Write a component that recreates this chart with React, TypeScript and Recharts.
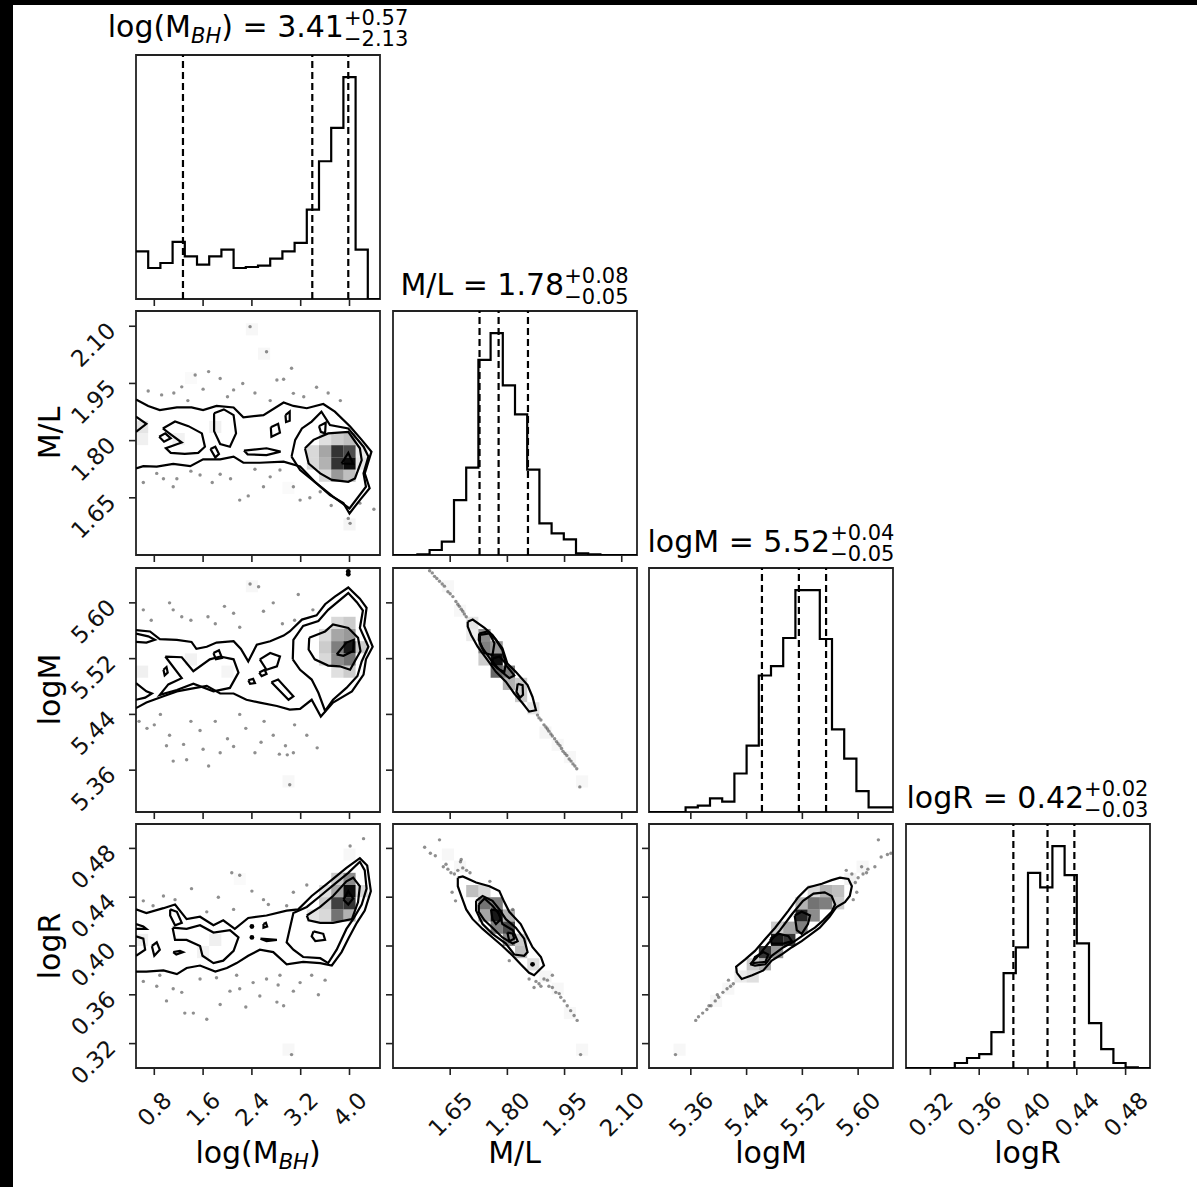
import React from "react";
import { ComposedChart, XAxis, YAxis, Scatter, ReferenceArea, ReferenceLine } from "recharts";

// axis ranges and ticks of the four parameters
const RANGE_MBH: [number, number] = [0.5, 4.5];
const RANGE_ML: [number, number] = [1.5, 2.14];
const RANGE_LOGM: [number, number] = [5.3, 5.65];
const RANGE_LOGR: [number, number] = [0.3, 0.5];

const TICKS_MBH = [0.8, 1.6, 2.4, 3.2, 4.0];
const TICKS_ML = [1.65, 1.8, 1.95, 2.1];
const TICKS_LOGM = [5.36, 5.44, 5.52, 5.6];
const TICKS_LOGR = [0.32, 0.36, 0.4, 0.44, 0.48];

// 1D histograms (20 bins each) and 16/50/84 % quantiles
const HIST_MBH = [143, 93, 108, 171, 128, 103, 128, 148, 93, 96, 100, 121, 143, 168, 268, 413, 513, 665, 148, 0];
const HIST_ML = [0, 0, 2, 15, 40, 165, 263, 587, 667, 510, 423, 257, 95, 65, 47, 5, 2, 0, 0, 0];
const HIST_LOGM = [0, 0, 0, 14, 19, 41, 31, 116, 200, 411, 439, 524, 668, 668, 521, 249, 161, 63, 14, 14];
const HIST_LOGR = [0, 0, 0, 0, 15, 30, 42, 108, 285, 363, 587, 543, 667, 580, 375, 135, 57, 15, 2, 0];

const QUANT_MBH = [1.27, 3.39, 3.98];
const QUANT_ML = [1.727, 1.777, 1.854];
const QUANT_LOGM = [5.462, 5.515, 5.554];
const QUANT_LOGR = [0.388, 0.416, 0.438];

type P = [number, number];
type C = [number, number, number];

// ---- M/L vs log(M_BH)
const CONT_ML_MBH: P[][] = [
  [[0.5,1.908],[0.7,1.891],[0.89,1.88],[1.17,1.887],[1.41,1.887],[1.6,1.88],[1.82,1.891],[2.1,1.887],[2.26,1.861],[2.59,1.867],[2.92,1.9],[3.08,1.891],[3.3,1.885],[3.57,1.896],[3.76,1.876],[4.01,1.837],[4.2,1.802],[4.36,1.771],[4.25,1.714],[4.33,1.675],[4.17,1.644],[4.0,1.609],[3.9,1.636],[3.68,1.657],[3.43,1.692],[3.19,1.732],[2.92,1.745],[2.53,1.742],[2.26,1.742],[2.1,1.758],[1.88,1.751],[1.6,1.751],[1.39,1.733],[1.11,1.739],[0.84,1.732],[0.62,1.733],[0.5,1.727]],
  [[3.05,1.758],[3.11,1.802],[3.22,1.832],[3.38,1.85],[3.54,1.876],[3.68,1.841],[3.98,1.832],[4.23,1.784],[4.31,1.758],[4.23,1.714],[4.27,1.679],[4.0,1.622],[3.73,1.653],[3.46,1.688],[3.19,1.723],[3.05,1.758]],
  [[3.27,1.78],[3.41,1.802],[3.65,1.819],[3.98,1.823],[4.17,1.78],[4.2,1.749],[4.09,1.701],[3.98,1.692],[3.71,1.697],[3.52,1.714],[3.33,1.74],[3.27,1.78]],
  [[3.87,1.74],[3.98,1.768],[4.06,1.739],[3.87,1.74]],
  [[0.5,1.863],[0.67,1.844],[0.5,1.823]],
  [[0.88,1.81],[0.98,1.819],[1.07,1.806],[0.96,1.797],[0.88,1.81]],
  [[0.94,1.832],[1.14,1.85],[1.36,1.838],[1.58,1.819],[1.63,1.784],[1.52,1.768],[1.3,1.765],[1.07,1.768],[0.99,1.78],[1.25,1.795],[1.03,1.821],[0.94,1.832]],
  [[1.78,1.872],[1.94,1.882],[2.1,1.867],[2.14,1.819],[2.04,1.784],[1.88,1.791],[1.78,1.825],[1.78,1.872]],
  [[1.72,1.778],[1.8,1.784],[1.86,1.765],[1.8,1.756],[1.72,1.778]],
  [[2.27,1.774],[2.64,1.78],[2.87,1.771],[2.64,1.762],[2.33,1.764],[2.27,1.774]],
  [[2.71,1.835],[2.83,1.844],[2.86,1.821],[2.72,1.81],[2.71,1.835]],
  [[2.95,1.867],[3.02,1.876],[3.02,1.852],[2.96,1.849],[2.95,1.867]],
  [[3.5,1.838],[3.61,1.847],[3.6,1.819],[3.53,1.823],[3.5,1.838]],
];
const CELLS_ML_MBH: C[] = [
  [4.0,1.74,0.95],[3.8,1.772,0.8],[3.8,1.74,0.8],[4.0,1.772,0.7],[3.6,1.772,0.35],[3.6,1.74,0.3],[3.8,1.708,0.4],[4.0,1.708,0.25],
  [3.4,1.772,0.15],[3.4,1.74,0.15],[3.8,1.804,0.2],[4.0,1.804,0.25],[3.6,1.804,0.12],[3.6,1.708,0.15],[4.2,1.74,0.1],[4.2,1.772,0.08],
  [0.6,1.836,0.1],[0.6,1.804,0.06],[1.2,1.804,0.05],[1.8,1.836,0.06],[2.4,2.092,0.03],[2.6,2.028,0.03],[4.0,1.58,0.04],[1.4,1.964,0.02],[3.0,1.676,0.02],
];
const PTS_ML_MBH: P[] = [
  [2.37,2.099],[2.64,2.033],[1.47,1.972],[1.69,1.981],[1.88,1.963],[1.25,1.941],[2.1,1.933],[2.81,1.959],[2.92,1.961],[3.05,1.99],[3.08,1.924],[3.46,1.94],
  [0.92,1.92],[1.12,1.925],[1.6,1.935],[2.0,1.915],[2.45,1.925],[2.7,1.905],[3.25,1.915],[3.85,1.905],[0.7,1.93],[1.35,1.905],[2.25,1.95],[3.65,1.925],
  [0.62,1.69],[0.84,1.714],[1.11,1.679],[1.17,1.7],[1.55,1.71],[1.88,1.712],[2.2,1.644],[2.34,1.655],[2.59,1.679],[2.86,1.723],[3.08,1.679],[3.19,1.644],
  [3.52,1.666],[3.98,1.596],[4.01,1.583],[4.17,1.636],[1.4,1.72],[2.05,1.7],[2.7,1.705],[0.95,1.7],[1.75,1.69],[3.35,1.65],[2.45,1.725],[3.7,1.63],[4.4,1.62],
];

// ---- logM vs log(M_BH)
const CONT_LOGM_MBH: P[][] = [
  [[0.5,5.561],[0.73,5.559],[0.89,5.548],[1.17,5.547],[1.41,5.544],[1.49,5.534],[1.66,5.537],[1.82,5.543],[2.1,5.545],[2.22,5.534],[2.34,5.516],[2.48,5.54],[2.7,5.545],[2.92,5.553],[3.02,5.559],[3.22,5.576],[3.46,5.582],[3.6,5.598],[3.76,5.609],[3.98,5.622],[4.17,5.606],[4.28,5.593],[4.24,5.567],[4.38,5.537],[4.27,5.519],[4.23,5.497],[4.04,5.473],[3.73,5.457],[3.53,5.437],[3.38,5.461],[3.19,5.448],[3.02,5.447],[2.81,5.452],[2.53,5.457],[2.31,5.461],[2.1,5.47],[1.88,5.47],[1.66,5.481],[1.41,5.477],[1.17,5.473],[0.95,5.466],[0.67,5.457],[0.5,5.449]],
  [[3.07,5.519],[3.08,5.547],[3.24,5.567],[3.49,5.574],[3.65,5.59],[3.98,5.614],[4.12,5.601],[4.22,5.589],[4.17,5.564],[4.31,5.537],[4.2,5.516],[4.13,5.495],[3.95,5.478],[3.73,5.461],[3.6,5.445],[3.49,5.471],[3.38,5.49],[3.19,5.504],[3.07,5.519]],
  [[3.34,5.55],[3.6,5.559],[3.73,5.569],[3.98,5.564],[4.14,5.55],[4.18,5.531],[4.01,5.504],[3.84,5.509],[3.65,5.51],[3.43,5.519],[3.33,5.533],[3.34,5.55]],
  [[3.79,5.526],[3.95,5.543],[4.07,5.547],[4.06,5.531],[3.9,5.524],[3.79,5.526]],
  [[0.5,5.556],[0.7,5.552],[0.81,5.547],[0.67,5.543],[0.5,5.544]],
  [[0.5,5.485],[0.67,5.473],[0.76,5.47],[0.65,5.464],[0.5,5.461]],
  [[0.98,5.523],[1.25,5.522],[1.44,5.502],[1.71,5.519],[1.88,5.523],[2.1,5.519],[2.18,5.5],[2.04,5.478],[1.77,5.473],[1.44,5.484],[1.17,5.475],[0.89,5.468],[1.03,5.483],[1.25,5.492],[0.98,5.523]],
  [[0.95,5.504],[1.0,5.508],[1.02,5.5],[0.97,5.496],[0.95,5.504]],
  [[1.77,5.528],[1.86,5.532],[1.91,5.521],[1.81,5.519],[1.77,5.528]],
  [[2.53,5.519],[2.7,5.528],[2.86,5.523],[2.81,5.509],[2.64,5.504],[2.53,5.519]],
  [[2.52,5.5],[2.61,5.504],[2.64,5.498],[2.56,5.495],[2.52,5.5]],
  [[2.34,5.489],[2.42,5.491],[2.45,5.485],[2.37,5.484],[2.34,5.489]],
  [[2.72,5.486],[2.83,5.49],[3.08,5.466],[3.0,5.461],[2.72,5.486]],
];
const CELLS_LOGM_MBH: C[] = [
  [4.0,5.5363,0.9],[4.0,5.5188,0.55],[3.8,5.5363,0.5],[3.8,5.5188,0.45],[4.0,5.5538,0.4],[3.8,5.5538,0.35],[3.6,5.5363,0.2],[3.6,5.5188,0.15],
  [4.2,5.5363,0.2],[3.8,5.5713,0.15],[3.6,5.5538,0.15],[3.8,5.5013,0.12],[4.0,5.5013,0.2],[4.0,5.5713,0.2],
  [0.6,5.5013,0.06],[1.4,5.5188,0.05],[2.0,5.5013,0.04],[2.4,5.6238,0.03],[3.0,5.3438,0.03],
];
const PTS_LOGM_MBH: P[] = [
  [2.37,5.627],[2.51,5.623],[1.05,5.6],[1.11,5.59],[0.62,5.59],[1.4,5.575],[1.68,5.58],[1.8,5.57],[2.1,5.585],[2.59,5.588],[3.16,5.612],[3.4,5.59],
  [2.9,5.57],[0.75,5.575],[2.2,5.565],[1.25,5.58],[3.1,5.575],[2.75,5.6],[1.95,5.595],
  [0.55,5.43],[0.68,5.42],[0.9,5.44],[1.05,5.41],[1.28,5.397],[1.55,5.417],[1.8,5.43],[2.0,5.405],[2.1,5.394],[2.3,5.42],[2.55,5.4],[2.75,5.41],
  [2.95,5.395],[3.1,5.425],[3.08,5.385],[2.98,5.382],[2.85,5.383],[3.47,5.392],[1.33,5.375],[1.11,5.373],[1.69,5.366],[3.02,5.339],[1.88,5.385],
  [0.8,5.425],[2.6,5.43],[3.3,5.41],[1.4,5.43],[2.2,5.44],[1.0,5.395],[2.45,5.385],[1.6,5.39],
];
const DARK_LOGM_MBH: P[] = [[3.98,5.645],[3.98,5.641]];

// ---- logR vs log(M_BH)
const CONT_LOGR_MBH: P[][] = [
  [[0.5,0.43],[0.67,0.427],[0.95,0.431],[1.14,0.434],[1.33,0.422],[1.55,0.424],[1.77,0.417],[1.93,0.421],[2.12,0.414],[2.34,0.423],[2.64,0.425],[2.97,0.429],[3.16,0.43],[3.38,0.441],[3.63,0.451],[3.95,0.464],[4.17,0.472],[4.29,0.466],[4.35,0.445],[4.25,0.429],[4.12,0.419],[3.98,0.406],[3.87,0.395],[3.71,0.384],[3.52,0.386],[3.24,0.387],[2.97,0.385],[2.75,0.395],[2.53,0.397],[2.34,0.392],[2.15,0.386],[1.99,0.382],[1.8,0.379],[1.55,0.384],[1.33,0.382],[1.17,0.377],[0.95,0.38],[0.67,0.379],[0.5,0.379]],
  [[3.02,0.414],[3.08,0.427],[3.3,0.432],[3.52,0.441],[3.76,0.451],[3.98,0.46],[4.17,0.469],[4.25,0.462],[4.28,0.447],[4.2,0.434],[4.06,0.422],[3.95,0.414],[3.79,0.397],[3.65,0.386],[3.52,0.39],[3.24,0.391],[3.08,0.397],[2.97,0.403],[3.02,0.414]],
  [[3.3,0.425],[3.52,0.432],[3.73,0.441],[3.95,0.453],[4.06,0.456],[4.17,0.449],[4.14,0.436],[4.04,0.422],[3.73,0.419],[3.52,0.419],[3.33,0.421],[3.3,0.425]],
  [[3.9,0.438],[3.98,0.445],[4.06,0.439],[3.98,0.434],[3.9,0.438]],
  [[3.41,0.412],[3.57,0.41],[3.6,0.405],[3.44,0.404],[3.38,0.408],[3.41,0.412]],
  [[0.5,0.418],[0.62,0.416],[0.67,0.414],[0.5,0.414]],
  [[0.5,0.408],[0.62,0.406],[0.65,0.397],[0.5,0.392]],
  [[0.76,0.4],[0.84,0.403],[0.89,0.397],[0.8,0.392],[0.76,0.4]],
  [[1.11,0.395],[1.22,0.396],[1.27,0.395],[1.16,0.393],[1.11,0.395]],
  [[1.06,0.43],[1.17,0.428],[1.25,0.419],[1.14,0.417],[1.06,0.425],[1.06,0.43]],
  [[1.1,0.415],[1.33,0.414],[1.55,0.417],[1.77,0.411],[2.04,0.413],[2.18,0.407],[2.1,0.396],[1.93,0.388],[1.77,0.386],[1.59,0.392],[1.55,0.4],[1.33,0.405],[1.14,0.405],[1.1,0.415]],
  [[2.59,0.418],[2.63,0.419],[2.65,0.416],[2.59,0.415],[2.59,0.418]],
  [[2.54,0.406],[2.81,0.405],[2.64,0.404],[2.54,0.406]],
];
const CELLS_LOGR_MBH: C[] = [
  [4.0,0.445,0.95],[4.0,0.435,0.8],[3.8,0.435,0.75],[3.8,0.425,0.55],[4.0,0.455,0.45],[3.8,0.445,0.35],[3.6,0.435,0.2],[3.6,0.425,0.15],
  [4.0,0.425,0.3],[3.8,0.455,0.2],[4.2,0.445,0.15],[3.4,0.425,0.1],[3.6,0.445,0.12],
  [0.6,0.405,0.06],[1.8,0.405,0.06],[1.6,0.395,0.05],[4.0,0.475,0.03],[3.0,0.315,0.03],[2.2,0.455,0.02],
];
const PTS_LOGR_MBH: P[] = [
  [2.2,0.458],[2.07,0.46],[1.41,0.447],[1.14,0.438],[0.62,0.437],[0.78,0.433],[2.59,0.438],[2.67,0.434],[3.08,0.444],[4.01,0.482],[4.23,0.488],
  [2.1,0.43],[1.66,0.428],[2.97,0.433],[0.95,0.441],[1.85,0.44],[2.4,0.445],[3.3,0.45],
  [0.62,0.371],[0.84,0.367],[1.25,0.362],[1.11,0.365],[1.55,0.373],[1.88,0.352],[2.04,0.363],[2.2,0.365],[2.42,0.37],[2.64,0.373],[2.86,0.376],
  [2.83,0.368],[2.81,0.354],[2.92,0.351],[3.08,0.363],[3.19,0.37],[3.49,0.36],[1.3,0.345],[1.44,0.345],[1.66,0.34],[3.05,0.311],[2.15,0.376],
  [1.82,0.374],[2.53,0.359],[3.38,0.376],[0.89,0.376],[1.0,0.355],[2.3,0.35],[3.6,0.372],
];
const DARK_LOGR_MBH: P[] = [[2.4,0.416],[2.4,0.407]];

// ---- logM vs M/L
const CONT_LOGM_ML: P[][] = [
  [[1.696,5.573],[1.709,5.576],[1.74,5.564],[1.761,5.554],[1.787,5.535],[1.8,5.513],[1.822,5.501],[1.853,5.482],[1.866,5.465],[1.875,5.446],[1.857,5.444],[1.84,5.456],[1.818,5.47],[1.796,5.487],[1.77,5.501],[1.748,5.518],[1.722,5.537],[1.705,5.554],[1.696,5.566],[1.696,5.573]],
  [[1.726,5.556],[1.748,5.559],[1.77,5.547],[1.787,5.532],[1.796,5.511],[1.818,5.496],[1.805,5.492],[1.779,5.504],[1.757,5.518],[1.735,5.535],[1.725,5.547],[1.726,5.556]],
  [[1.728,5.554],[1.753,5.556],[1.766,5.542],[1.761,5.525],[1.74,5.528],[1.728,5.542],[1.728,5.554]],
  [[1.827,5.484],[1.84,5.482],[1.841,5.468],[1.833,5.464],[1.824,5.472],[1.827,5.484]],
  [[1.761,5.52],[1.779,5.523],[1.796,5.513],[1.792,5.501],[1.774,5.506],[1.761,5.513],[1.761,5.52]],
];
const CELLS_LOGM_ML: C[] = [
  [1.74,5.5538,0.45],[1.74,5.5363,0.5],[1.772,5.5188,0.95],[1.772,5.5013,0.6],[1.804,5.5013,0.5],[1.804,5.4838,0.3],[1.836,5.4663,0.2],
  [1.772,5.5363,0.4],[1.74,5.5188,0.2],[1.708,5.5713,0.1],[1.836,5.4838,0.2],[1.868,5.4488,0.1],[1.708,5.5538,0.08],
  [1.676,5.5888,0.03],[1.644,5.6238,0.03],[1.9,5.4138,0.04],[1.932,5.3963,0.03],[1.964,5.3788,0.03],[1.996,5.3438,0.03],
];
const PTS_LOGM_ML: P[] = [
  [1.596,5.646],[1.603,5.643],[1.609,5.638],[1.615,5.635],[1.622,5.631],[1.629,5.627],[1.635,5.624],[1.644,5.616],[1.65,5.613],[1.657,5.609],
  [1.665,5.602],[1.67,5.598],[1.674,5.595],[1.679,5.591],[1.683,5.588],[1.687,5.584],[1.692,5.58],
  [1.879,5.439],[1.883,5.435],[1.888,5.432],[1.896,5.425],[1.901,5.422],[1.905,5.419],[1.909,5.416],[1.914,5.412],[1.918,5.409],[1.924,5.405],
  [1.929,5.401],[1.933,5.398],[1.938,5.395],[1.942,5.391],[1.946,5.387],[1.951,5.384],[1.956,5.381],[1.962,5.376],[1.967,5.373],[1.972,5.369],
  [1.977,5.366],[1.982,5.362],[1.99,5.336],
];

// ---- logR vs M/L
const CONT_LOGR_ML: P[][] = [
  [[1.67,0.456],[1.683,0.457],[1.718,0.452],[1.753,0.449],[1.779,0.445],[1.792,0.436],[1.805,0.428],[1.835,0.418],[1.848,0.41],[1.866,0.399],[1.888,0.391],[1.896,0.384],[1.87,0.376],[1.857,0.378],[1.835,0.385],[1.814,0.392],[1.787,0.4],[1.761,0.407],[1.735,0.414],[1.709,0.422],[1.692,0.43],[1.679,0.441],[1.67,0.449],[1.67,0.456]],
  [[1.718,0.437],[1.735,0.441],[1.761,0.437],[1.779,0.43],[1.796,0.422],[1.822,0.415],[1.844,0.406],[1.853,0.395],[1.844,0.392],[1.818,0.393],[1.796,0.402],[1.761,0.41],[1.735,0.418],[1.718,0.429],[1.718,0.437]],
  [[1.725,0.434],[1.74,0.439],[1.761,0.433],[1.779,0.426],[1.787,0.418],[1.814,0.413],[1.827,0.404],[1.814,0.402],[1.787,0.407],[1.761,0.415],[1.74,0.421],[1.725,0.428],[1.725,0.434]],
  [[1.757,0.43],[1.774,0.429],[1.783,0.422],[1.77,0.418],[1.761,0.422],[1.757,0.43]],
  [[1.8,0.411],[1.814,0.41],[1.818,0.406],[1.805,0.404],[1.8,0.411]],
];
const CELLS_LOGR_ML: C[] = [
  [1.708,0.445,0.25],[1.772,0.425,0.9],[1.772,0.435,0.5],[1.74,0.435,0.55],[1.74,0.425,0.35],[1.804,0.415,0.7],[1.804,0.405,0.45],
  [1.804,0.425,0.3],[1.836,0.405,0.2],[1.836,0.395,0.25],[1.868,0.385,0.12],[1.74,0.445,0.15],[1.772,0.415,0.5],
  [1.676,0.465,0.03],[1.644,0.475,0.03],[1.9,0.375,0.04],[1.932,0.365,0.03],[1.964,0.345,0.03],[1.996,0.315,0.03],
];
const PTS_LOGR_ML: P[] = [
  [1.583,0.481],[1.598,0.476],[1.611,0.474],[1.622,0.487],[1.632,0.465],[1.644,0.463],[1.652,0.46],[1.661,0.459],[1.67,0.462],[1.677,0.469],
  [1.683,0.464],[1.693,0.462],[1.702,0.46],[1.655,0.444],[1.664,0.437],[1.754,0.453],[1.679,0.471],[1.639,0.467],[1.814,0.43],
  [1.857,0.373],[1.875,0.371],[1.883,0.369],[1.896,0.373],[1.905,0.372],[1.909,0.367],[1.918,0.366],[1.927,0.362],[1.936,0.361],[1.94,0.358],
  [1.949,0.355],[1.957,0.351],[1.966,0.347],[1.975,0.343],[1.983,0.339],[1.992,0.311],[1.918,0.376],[1.87,0.366],[1.888,0.367],[1.805,0.388],
];
const DARK_LOGR_ML: P[] = [[1.866,0.385]];

// ---- logR vs logM
const CONT_LOGR_LOGM: P[][] = [
  [[5.426,0.378],[5.425,0.383],[5.438,0.389],[5.452,0.396],[5.467,0.406],[5.481,0.415],[5.5,0.429],[5.514,0.44],[5.528,0.448],[5.548,0.451],[5.562,0.454],[5.574,0.456],[5.586,0.455],[5.591,0.449],[5.588,0.441],[5.581,0.436],[5.569,0.432],[5.559,0.424],[5.545,0.415],[5.533,0.41],[5.519,0.404],[5.505,0.399],[5.49,0.393],[5.476,0.388],[5.464,0.38],[5.448,0.376],[5.433,0.373],[5.426,0.378]],
  [[5.445,0.385],[5.457,0.392],[5.471,0.402],[5.488,0.413],[5.505,0.426],[5.521,0.437],[5.536,0.443],[5.552,0.444],[5.562,0.441],[5.567,0.434],[5.562,0.428],[5.55,0.421],[5.538,0.415],[5.524,0.41],[5.509,0.404],[5.493,0.399],[5.476,0.392],[5.467,0.385],[5.452,0.384],[5.445,0.385]],
  [[5.448,0.386],[5.452,0.391],[5.464,0.395],[5.471,0.393],[5.467,0.387],[5.448,0.386]],
  [[5.474,0.406],[5.486,0.41],[5.5,0.408],[5.505,0.404],[5.493,0.402],[5.476,0.402],[5.474,0.406]],
  [[5.509,0.425],[5.519,0.428],[5.531,0.425],[5.528,0.418],[5.519,0.41],[5.512,0.413],[5.509,0.425]],
];
const CELLS_LOGR_LOGM: C[] = [
  [5.5713,0.445,0.25],[5.5363,0.435,0.55],[5.5538,0.435,0.5],[5.5363,0.425,0.45],[5.5538,0.445,0.3],[5.5188,0.425,0.85],[5.5188,0.415,0.5],
  [5.5013,0.405,0.8],[5.4838,0.405,0.9],[5.4838,0.395,0.4],[5.4663,0.395,0.8],[5.4663,0.385,0.3],[5.4488,0.385,0.2],[5.4488,0.375,0.12],
  [5.5188,0.435,0.3],[5.5013,0.415,0.35],[5.4838,0.415,0.2],[5.5713,0.435,0.2],[5.4313,0.375,0.08],[5.5363,0.445,0.15],
  [5.5888,0.455,0.05],[5.6063,0.465,0.03],[5.4138,0.365,0.03],[5.3963,0.355,0.03],[5.3438,0.315,0.03],
];
const PTS_LOGR_LOGM: P[] = [
  [5.367,0.339],[5.371,0.342],[5.377,0.345],[5.383,0.348],[5.389,0.351],[5.395,0.355],[5.4,0.358],[5.406,0.362],[5.412,0.365],[5.417,0.367],
  [5.421,0.369],[5.414,0.372],[5.398,0.36],[5.386,0.351],[5.338,0.311],
  [5.591,0.459],[5.596,0.452],[5.6,0.456],[5.607,0.459],[5.614,0.463],[5.624,0.465],[5.633,0.473],[5.642,0.475],[5.647,0.476],[5.629,0.487],
  [5.605,0.465],[5.598,0.444],[5.593,0.438],[5.612,0.46],[5.583,0.462],
];

const PARAMS = [
  { range: RANGE_MBH, ticks: TICKS_MBH, digits: 1, hist: HIST_MBH, quant: QUANT_MBH },
  { range: RANGE_ML, ticks: TICKS_ML, digits: 2, hist: HIST_ML, quant: QUANT_ML },
  { range: RANGE_LOGM, ticks: TICKS_LOGM, digits: 2, hist: HIST_LOGM, quant: QUANT_LOGM },
  { range: RANGE_LOGR, ticks: TICKS_LOGR, digits: 2, hist: HIST_LOGR, quant: QUANT_LOGR },
];

const PAIRS = [
  { row: 1, col: 0, contours: CONT_ML_MBH, cells: CELLS_ML_MBH, points: PTS_ML_MBH, dark: [] as P[] },
  { row: 2, col: 0, contours: CONT_LOGM_MBH, cells: CELLS_LOGM_MBH, points: PTS_LOGM_MBH, dark: DARK_LOGM_MBH },
  { row: 2, col: 1, contours: CONT_LOGM_ML, cells: CELLS_LOGM_ML, points: PTS_LOGM_ML, dark: [] as P[] },
  { row: 3, col: 0, contours: CONT_LOGR_MBH, cells: CELLS_LOGR_MBH, points: PTS_LOGR_MBH, dark: DARK_LOGR_MBH },
  { row: 3, col: 1, contours: CONT_LOGR_ML, cells: CELLS_LOGR_ML, points: PTS_LOGR_ML, dark: DARK_LOGR_ML },
  { row: 3, col: 2, contours: CONT_LOGR_LOGM, cells: CELLS_LOGR_LOGM, points: PTS_LOGR_LOGM, dark: [] as P[] },
];

const TITLES = [
  { pre: "log(M", name: "BH", post: ") = 3.41", hi: "+0.57", lo: "\u22122.13" },
  { pre: "M/L = 1.78", name: "", post: "", hi: "+0.08", lo: "\u22120.05" },
  { pre: "logM = 5.52", name: "", post: "", hi: "+0.04", lo: "\u22120.05" },
  { pre: "logR = 0.42", name: "", post: "", hi: "+0.02", lo: "\u22120.03" },
];
const LABELS = [
  { pre: "log(M", name: "BH", post: ")" },
  { pre: "M/L", name: "", post: "" },
  { pre: "logM", name: "", post: "" },
  { pre: "logR", name: "", post: "" },
];

// layout
const S = 244;
const COL_X = [136, 392.5, 649, 905.5];
const ROW_Y = [54.5, 311, 567.5, 824];
const PAD_L = 100, PAD_B = 90, PAD_T = 4, PAD_R = 40;
const CW = PAD_L + S + PAD_R, CH = PAD_T + S + PAD_B;
const FONT = "DejaVu Sans";
const TICK_FS = 23;
const CAP = TICK_FS * 0.73 * 0.707;
const TICK_LINE = { stroke: "#222", strokeWidth: 1.6 };

const tickWidth = (s: string) => TICK_FS * (0.636 * (s.length - 1) + 0.318);

const XTick = (props: any) => {
  const { x, y, payload, digits, show } = props;
  if (!show) return <g />;
  const s = Number(payload.value).toFixed(digits);
  const ax = x + (tickWidth(s) * 0.707 + CAP) / 2;
  const ay = y + 15 + CAP;
  return (
    <text x={ax} y={ay} textAnchor="end" fontSize={TICK_FS} fontFamily={FONT} fill="#111" transform={`rotate(-45 ${ax} ${ay})`}>
      {s}
    </text>
  );
};

const YTick = (props: any) => {
  const { x, y, payload, digits, show } = props;
  if (!show) return <g />;
  const s = Number(payload.value).toFixed(digits);
  const ax = x - 12;
  const ay = y + 6;
  return (
    <text x={ax} y={ay} textAnchor="end" fontSize={TICK_FS} fontFamily={FONT} fill="#111" transform={`rotate(-45 ${ax} ${ay})`}>
      {s}
    </text>
  );
};

const NoDot = () => <g />;
const Dot = (p: any) => <circle cx={p.cx} cy={p.cy} r={1.7} fill="#333" fillOpacity={0.55} />;
const DarkDot = (p: any) => <circle cx={p.cx} cy={p.cy} r={2.4} fill="#000" />;

const toXY = (pts: P[]) => pts.map(([x, y]) => ({ x, y }));

function xAxisFor(row: number, col: number) {
  const p = PARAMS[col];
  return (
    <XAxis key="xa" type="number" dataKey="x" domain={p.range} ticks={p.ticks} interval={0} allowDataOverflow
      axisLine={false} height={PAD_B} tickSize={7} tickMargin={0} tickLine={TICK_LINE}
      tick={<XTick digits={p.digits} show={row === 3} />} />
  );
}

function HistPanel({ idx }: { idx: number }) {
  const p = PARAMS[idx];
  const [lo, hi] = p.range;
  const bw = (hi - lo) / p.hist.length;
  const data = p.hist.map((c, i) => ({ x: lo + i * bw, y: c }));
  data.push({ x: hi, y: p.hist[p.hist.length - 1] });
  const ymax = Math.max(...p.hist) * 1.1;
  return (
    <div style={{ position: "absolute", left: COL_X[idx] - PAD_L, top: ROW_Y[idx] - PAD_T }}>
      <ComposedChart width={CW} height={CH} margin={{ top: PAD_T, right: PAD_R, bottom: 0, left: 0 }}>
        {xAxisFor(idx, idx)}
        <YAxis type="number" dataKey="y" domain={[0, ymax]} allowDataOverflow width={PAD_L} tick={false} tickLine={false} axisLine={false} />
        <Scatter data={data} fill="#000" line={{ stroke: "#000", strokeWidth: 2.2 }} lineJointType="stepAfter" shape={NoDot} isAnimationActive={false} />
        {p.quant.map((q) => (
          <ReferenceLine key={q} x={q} stroke="#000" strokeWidth={2.2} strokeDasharray="7 4" />
        ))}
        <ReferenceArea x1={lo} x2={hi} y1={0} y2={ymax} fill="none" stroke="#222" strokeWidth={1.8} ifOverflow="visible" />
      </ComposedChart>
    </div>
  );
}

function PairPanel({ pair }: { pair: (typeof PAIRS)[number] }) {
  const { row, col } = pair;
  const px = PARAMS[col], py = PARAMS[row];
  const [xlo, xhi] = px.range;
  const [ylo, yhi] = py.range;
  const bw = (xhi - xlo) / 20, bh = (yhi - ylo) / 20;
  return (
    <div style={{ position: "absolute", left: COL_X[col] - PAD_L, top: ROW_Y[row] - PAD_T }}>
      <ComposedChart width={CW} height={CH} margin={{ top: PAD_T, right: PAD_R, bottom: 0, left: 0 }}>
        {xAxisFor(row, col)}
        <YAxis type="number" dataKey="y" domain={py.range} ticks={py.ticks} interval={0} allowDataOverflow
          axisLine={false} width={PAD_L} tickSize={7} tickMargin={0} tickLine={TICK_LINE}
          tick={<YTick digits={py.digits} show={col === 0} />} />
        {pair.cells.map(([x, y, d], i) => (
          <ReferenceArea key={"c" + i} x1={x - bw / 2} x2={x + bw / 2} y1={y - bh / 2} y2={y + bh / 2}
            fill="#000" fillOpacity={d} stroke="none" ifOverflow="visible" />
        ))}
        <Scatter data={toXY(pair.points)} shape={Dot} isAnimationActive={false} />
        {pair.contours.map((c, i) => (
          <Scatter key={"k" + i} data={toXY(c)} fill="#000" line={{ stroke: "#000", strokeWidth: 2.2 }} shape={NoDot} isAnimationActive={false} />
        ))}
        {pair.dark.length > 0 && <Scatter data={toXY(pair.dark)} shape={DarkDot} isAnimationActive={false} />}
        <ReferenceArea x1={xlo} x2={xhi} y1={ylo} y2={yhi} fill="none" stroke="#222" strokeWidth={1.8} ifOverflow="visible" />
      </ComposedChart>
    </div>
  );
}

const SCRIPT_FS = 21;
const SCRIPT_W = SCRIPT_FS * 3.064;

export default function App() {
  return (
    <div style={{ position: "absolute", left: 0, top: 0, width: 1197, height: 1187, background: "#000", overflow: "hidden" }}>
      <div style={{ position: "absolute", left: 13, top: 5, width: 1184, height: 1182, background: "#fff" }} />
      {PARAMS.map((_, i) => (
        <HistPanel key={"h" + i} idx={i} />
      ))}
      {PAIRS.map((pr, i) => (
        <PairPanel key={"p" + i} pair={pr} />
      ))}
      <svg width={1197} height={1187} style={{ position: "absolute", left: 0, top: 0, pointerEvents: "none" }} fontFamily={FONT}>
        {TITLES.map((t, i) => (
          <text key={"t" + i} x={COL_X[i] + S / 2} y={ROW_Y[i] - (i === 0 ? 18 : 16)} textAnchor="middle" fontSize={30} fill="#000">
            {t.pre}
            {t.name ? <tspan fontSize={SCRIPT_FS} fontStyle="italic" dy={6}>{t.name}</tspan> : null}
            {t.name ? <tspan dy={-6}>{t.post}</tspan> : null}
            <tspan fontSize={SCRIPT_FS} dy={-12}>{t.hi}</tspan>
            <tspan fontSize={SCRIPT_FS} dx={-SCRIPT_W} dy={21}>{t.lo}</tspan>
          </text>
        ))}
        {LABELS.map((l, i) => (
          <text key={"b" + i} x={COL_X[i] + S / 2} y={1163} textAnchor="middle" fontSize={30} fill="#000">
            {l.pre}
            {l.name ? <tspan fontSize={SCRIPT_FS} fontStyle="italic" dy={6}>{l.name}</tspan> : null}
            {l.name ? <tspan dy={-6}>{l.post}</tspan> : null}
          </text>
        ))}
        {LABELS.slice(1).map((l, i) => (
          <text key={"l" + i} transform={`translate(60 ${ROW_Y[i + 1] + S / 2}) rotate(-90)`} textAnchor="middle" fontSize={30} fill="#000">
            {l.pre}
          </text>
        ))}
      </svg>
    </div>
  );
}
